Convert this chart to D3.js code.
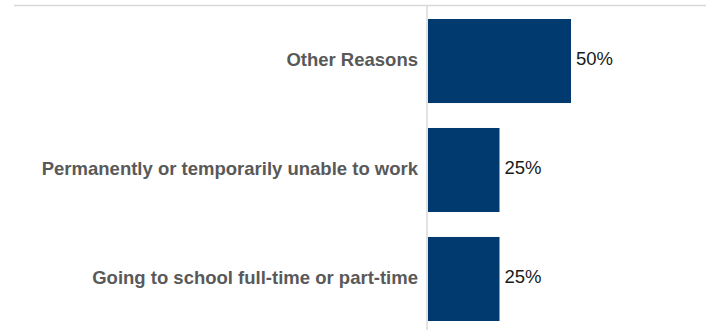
<!DOCTYPE html>
<html><head><meta charset="utf-8">
<script src="https://cdn.jsdelivr.net/npm/d3@7"></script>
<style>body{margin:0;background:#fff;}svg{display:block;font-family:"Liberation Sans",Arial,sans-serif;}</style>
</head><body>
<svg id="c" width="706" height="330"></svg>
<script>
const categories = ["Other Reasons", "Permanently or temporarily unable to work", "Going to school full-time or part-time"];
const values = [50, 25, 25];
const valueLabels = ["50%", "25%", "25%"];

const svg = d3.select("#c");
const x0 = 428;
const x = d3.scaleLinear().domain([0, 50]).range([x0, 571]);
const y = d3.scaleBand().domain(categories).range([19, 321]).paddingInner(0.229).paddingOuter(0);

// top gridline
svg.append("line").attr("x1", 14).attr("x2", 706).attr("y1", 5.5).attr("y2", 5.5)
  .attr("stroke", "#d9d9d9").attr("stroke-width", 1.5);
// axis line
svg.append("line").attr("x1", 427).attr("x2", 427).attr("y1", 5).attr("y2", 330)
  .attr("stroke", "#d9d9d9").attr("stroke-width", 1.5);

svg.selectAll("rect.bar").data(values).enter().append("rect")
  .attr("class", "bar")
  .attr("x", x(0))
  .attr("y", (d, i) => y(categories[i]))
  .attr("width", d => x(d) - x(0))
  .attr("height", y.bandwidth())
  .attr("fill", "#003a6e");

svg.selectAll("text.val").data(values).enter().append("text")
  .attr("class", "val")
  .attr("x", d => x(d) + 5)
  .attr("y", (d, i) => y(categories[i]) + y.bandwidth() / 2 - 2)
  .attr("dy", "0.35em")
  .attr("font-size", 18.5)
  .attr("fill", "#1a1a1a")
  .text((d, i) => valueLabels[i]);

svg.selectAll("text.cat").data(categories).enter().append("text")
  .attr("class", "cat")
  .attr("x", 418)
  .attr("y", d => y(d) + y.bandwidth() / 2 - 1)
  .attr("dy", "0.35em")
  .attr("text-anchor", "end")
  .attr("font-size", 18.5)
  .attr("font-weight", "bold")
  .attr("fill", "#595959")
  .text(d => d);
</script>
</body></html>
